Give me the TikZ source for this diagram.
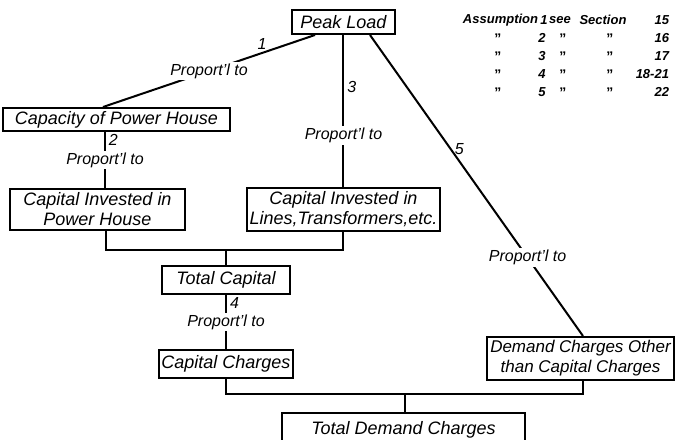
\documentclass[tikz,border=0pt]{standalone}
\usepackage{fontspec}
\setmainfont{Liberation Sans}

\begin{document}
\begin{tikzpicture}[x=0.5pt, y=-0.5pt, line width=1pt,
    box/.style={draw, line width=1pt, align=center, inner sep=1pt,
        font=\fontsize{9}{10}\selectfont\itshape},
    prop/.style={fill=white, inner sep=1pt, font=\fontsize{8}{9}\selectfont\itshape},
    num/.style={inner sep=1.5pt, font=\fontsize{8}{9}\selectfont\itshape},
    legend/.style={inner sep=0pt, font=\fontsize{6.5}{8}\selectfont\bfseries\itshape},
    ditto/.style={inner sep=0pt, font=\fontsize{7}{8}\selectfont\bfseries}]
    \useasboundingbox (0,0) rectangle (677,440);

    % boxes
    \node[box, minimum width=51.5pt, minimum height=12pt] (peak) at (343.5,22) {Peak Load};
    \node[box, minimum width=113.5pt, minimum height=11.5pt] (cap) at (116.5,119.5) {Capacity of Power House};
    \node[box, minimum width=87.5pt, minimum height=20.5pt] (ciph) at (97.5,209.5) {Capital Invested in\\Power House};
    \node[box, minimum width=96.5pt, minimum height=21.5pt] (cil) at (343.5,209.5) {Capital Invested in\\Lines,Transformers,etc.};
    \node[box, minimum width=64pt, minimum height=14pt] (totcap) at (226,280) {Total Capital};
    \node[box, minimum width=65pt, minimum height=14pt] (capch) at (226,364) {Capital Charges};
    \node[box, minimum width=93.5pt, minimum height=21.5pt, font=\fontsize{8.5}{10}\selectfont\itshape] (dem) at (580.5,358.5) {Demand Charges Other\\than Capital Charges};
    \node[box, minimum width=121.5pt, minimum height=17pt] (totdem) at (403.5,430) {Total Demand Charges};

    % assumptions
    \draw ([xshift=-14.25pt]peak.south) -- node[num, pos=0.25, above] {1}
        node[prop] {Proport'l to} ([xshift=-6.75pt]cap.north);
    \draw ([xshift=-5.75pt]cap.south) -- node[num, pos=0.15, right] {2}
        node[prop] {Proport'l to} ([xshift=-5.75pt]cap.south |- ciph.north);
    \draw (peak.south) -- node[num, pos=0.34, right] {3}
        node[prop, pos=0.66] {Proport'l to} (cil.north);
    \draw ([xshift=13.25pt]peak.south) -- node[num, pos=0.38, right] {5}
        node[prop, pos=0.74] {Proport'l to} ([xshift=1.25pt]dem.north);
    \draw (totcap.south) -- node[num, pos=0.15, right] {4}
        node[prop] {Proport'l to} (capch.north);

    % sums
    \coordinate (j1) at (226,250);
    \draw ([xshift=4.25pt]ciph.south) |- (j1) -| (cil.south);
    \draw (j1) -- (totcap.north);
    \coordinate (j2) at (405,394);
    \draw (capch.south) |- (j2) -| ([xshift=1.25pt]dem.south);
    \draw (j2) -- (j2 |- totdem.north);

    % legend
    \node[legend, anchor=west] (asm) at (462,20) {Assumption};
    \node[legend] (a1) at (544,20) {1};
    \node[legend] (see) at (560,20) {see};
    \node[legend] (sec) at (603,20) {Section};
    \node[legend, anchor=east] (s1) at (670,20) {15};
    \foreach \n/\s [count=\i] in {2/16, 3/17, 4/18-21, 5/22}
    {
    \node[ditto] (da\n) at (498,21+18*\i) {"};
    \node[legend] (a\n) at (542,20+18*\i) {\n};
    \node[ditto] (db\n) at (563,21+18*\i) {"};
    \node[ditto] (dc\n) at (610,21+18*\i) {"};
    \node[legend, anchor=east] (s\n) at (670,20+18*\i) {\s};
    }
\end{tikzpicture}
\end{document}
